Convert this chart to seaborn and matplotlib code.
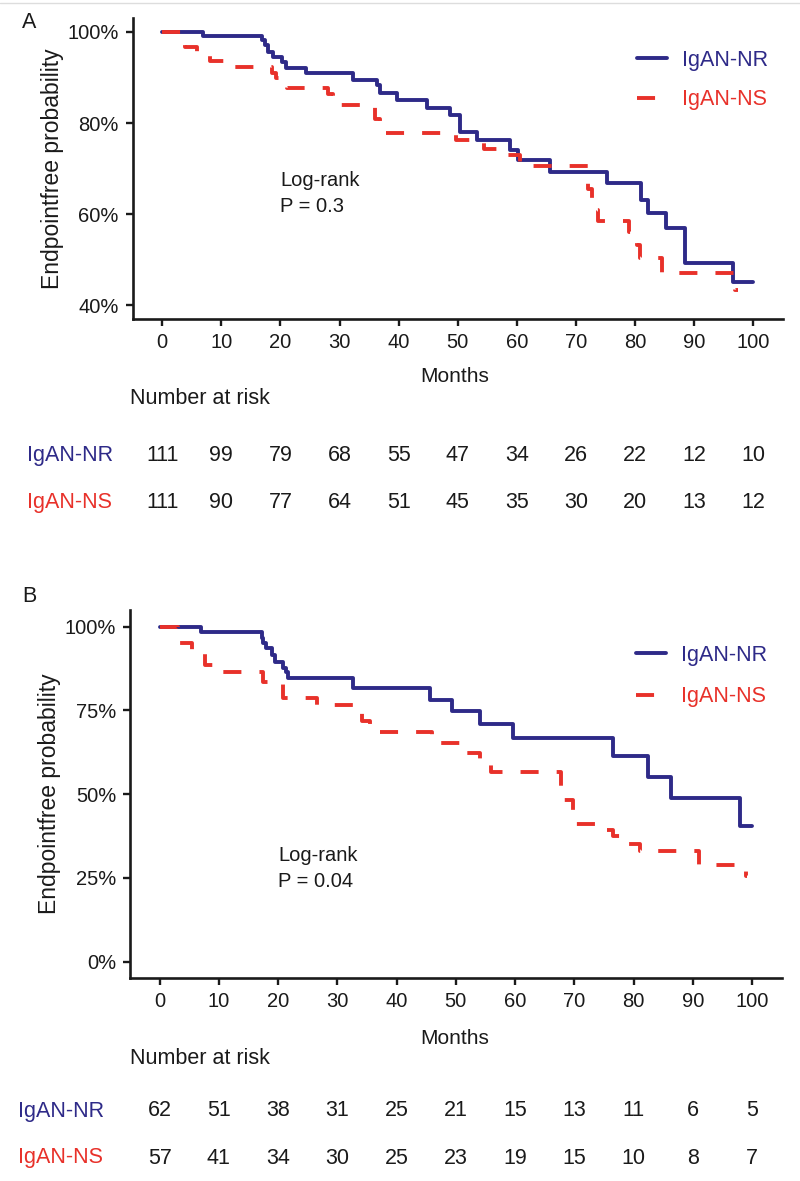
import pandas as pd
import seaborn as sns
import matplotlib.pyplot as plt
from matplotlib import transforms
from matplotlib.lines import Line2D

# Kaplan-Meier step curves (months, % endpoint-free)
groups = ["IgAN-NR", "IgAN-NS"]
colors = {"IgAN-NR": "#2E2A88", "IgAN-NS": "#E8312A"}

a_nr_time = [0, 6.9, 16.8, 17.4, 17.9, 18.8, 20.2, 20.9, 24.4, 32.3, 36.3, 36.8, 39.7,
             44.8, 48.7, 50.4, 53.2, 58.8, 60.2, 65.6, 75.2, 81.1, 82.2, 85.3, 88.4, 96.6, 100.0]
a_nr_surv = [100, 99.2, 98.3, 97.2, 95.7, 94.6, 93.5, 92.1, 91.0, 89.5, 88.3, 86.6, 85.1,
             83.3, 81.8, 78.1, 76.3, 74.1, 71.9, 69.3, 66.8, 63.1, 60.3, 56.9, 49.2, 45.1, 45.1]
a_ns_time = [0, 3.8, 5.8, 8.1, 11.6, 18.5, 19.3, 21.1, 28.1, 28.9, 30.2, 36.0, 36.8, 37.5,
             49.7, 54.4, 57.4, 60.5, 72.1, 72.7, 73.8, 79.0, 80.3, 80.8, 84.6, 96.9, 97.4]
a_ns_surv = [100, 96.8, 95.4, 93.6, 92.4, 91.0, 89.9, 87.6, 86.3, 85.1, 83.9, 80.8, 79.3, 77.9,
             76.3, 74.4, 73.1, 70.5, 65.5, 61.0, 58.5, 56.1, 53.2, 50.3, 47.0, 43.3, 43.3]

b_nr_time = [0, 7.0, 17.2, 17.5, 18.0, 18.9, 19.4, 20.8, 21.4, 21.7, 32.7, 45.6, 49.3,
             54.0, 59.7, 76.5, 82.5, 86.3, 97.9, 100.0]
b_nr_surv = [100, 98.3, 96.5, 95.1, 93.6, 91.6, 89.6, 87.6, 86.6, 84.8, 81.6, 78.1, 74.9,
             71.1, 66.9, 61.3, 55.0, 48.9, 40.6, 40.6]
b_ns_time = [0, 3.1, 5.4, 7.6, 10.0, 17.5, 20.8, 26.5, 34.1, 35.5, 46.0, 50.7, 54.0, 56.0,
             67.7, 69.7, 75.2, 76.5, 79.1, 81.1, 91.0, 98.9, 99.2]
b_ns_surv = [100, 95.0, 93.0, 88.6, 86.6, 83.6, 78.7, 76.5, 71.7, 68.7, 65.3, 62.3, 59.3, 56.5,
             48.4, 41.0, 39.4, 37.4, 35.0, 33.0, 28.8, 25.5, 25.5]

# number at risk table
risk_times = [0, 10, 20, 30, 40, 50, 60, 70, 80, 90, 100]
a_risk_nr = [111, 99, 79, 68, 55, 47, 34, 26, 22, 12, 10]
a_risk_ns = [111, 90, 77, 64, 51, 45, 35, 30, 20, 13, 12]
b_risk_nr = [62, 51, 38, 31, 25, 21, 15, 13, 11, 6, 5]
b_risk_ns = [57, 41, 34, 30, 25, 23, 19, 15, 10, 8, 7]

a_yticks = [40, 60, 80, 100]
b_yticks = [0, 25, 50, 75, 100]

sns.set_style("ticks")
plt.rcParams["font.family"] = ["Liberation Sans", "DejaVu Sans"]
plt.rcParams["lines.scale_dashes"] = False

fig = plt.figure(figsize=(8, 11.81), dpi=100)
W, H = 800, 1181
ink = "#1a1a1a"

# faint border line at the very top
fig.add_artist(Line2D([0, 1], [1 - 3.3 / H, 1 - 3.3 / H], color="#dddddd", lw=1))


def km_panel(rect, nr_t, nr_s, ns_t, ns_s, ylim, yticks, pval, ptext_y, leg_y, leg_space):
    ax = fig.add_axes(rect)
    df = pd.concat([
        pd.DataFrame({"month": nr_t, "surv": nr_s, "group": "IgAN-NR"}),
        pd.DataFrame({"month": ns_t, "surv": ns_s, "group": "IgAN-NS"}),
    ])
    sns.lineplot(data=df, x="month", y="surv", hue="group", style="group",
                 hue_order=groups, style_order=groups, palette=colors,
                 dashes={"IgAN-NR": "", "IgAN-NS": (13, 13)},
                 drawstyle="steps-post", estimator=None, sort=False,
                 linewidth=2.8, legend=False, ax=ax)
    ax.set_xlim(-5, 105)
    ax.set_ylim(*ylim)
    ax.set_xticks(risk_times)
    ax.set_yticks(yticks)
    ax.set_yticklabels([f"{t}%" for t in yticks])
    sns.despine(ax=ax)
    for s in ["left", "bottom"]:
        ax.spines[s].set_linewidth(1.9)
        ax.spines[s].set_color(ink)
    ax.tick_params(axis="both", length=5, width=1.7, pad=5, labelsize=14.5,
                   color=ink, labelcolor=ink)
    ax.set_xlabel("")
    ax.set_ylabel("Endpointfree probability", fontsize=16.5, color=ink)
    ax.yaxis.set_label_coords(-0.106, 0.5)
    ax.text(20, ptext_y, f"Log-rank\nP = {pval}", fontsize=14.5, color=ink,
            ha="left", va="center", linespacing=1.45)
    leg = ax.legend(handles=ax.lines[:2], labels=groups, loc="upper left",
                    bbox_to_anchor=(0.776, leg_y), frameon=False, fontsize=15.5,
                    handlelength=1.4, handletextpad=0.7, labelspacing=leg_space,
                    borderpad=0, borderaxespad=0)
    for txt, g in zip(leg.get_texts(), groups):
        txt.set_color(colors[g])
    return ax


def risk_table(ax, months_y, title_y, nr_y, ns_y, label_x, nr_vals, ns_vals):
    tr = transforms.blended_transform_factory(ax.transData, fig.transFigure)
    fig.text(455 / W, 1 - months_y / H, "Months", fontsize=15, ha="center", va="center",
             color=ink)
    fig.text(130 / W, 1 - title_y / H, "Number at risk", fontsize=15.5, ha="left",
             va="center", color=ink)
    fig.text(label_x / W, 1 - nr_y / H, "IgAN-NR", fontsize=15.5, ha="left", va="center",
             color=colors["IgAN-NR"])
    fig.text(label_x / W, 1 - ns_y / H, "IgAN-NS", fontsize=15.5, ha="left", va="center",
             color=colors["IgAN-NS"])
    for t, n1, n2 in zip(risk_times, nr_vals, ns_vals):
        ax.text(t, 1 - nr_y / H, str(n1), transform=tr, fontsize=15.5, ha="center",
                va="center", color=ink)
        ax.text(t, 1 - ns_y / H, str(n2), transform=tr, fontsize=15.5, ha="center",
                va="center", color=ink)


ax_a = km_panel([132.7 / W, 1 - 319 / H, 650 / W, 300.7 / H],
                a_nr_time, a_nr_surv, a_ns_time, a_ns_surv,
                (37, 103), a_yticks, "0.3", 64.5, 0.895, 0.85)
risk_table(ax_a, 377, 399, 456, 503, 27, a_risk_nr, a_risk_ns)

ax_b = km_panel([130 / W, 1 - 978.3 / H, 651.7 / W, 368.3 / H],
                b_nr_time, b_nr_surv, b_ns_time, b_ns_surv,
                (-5, 105), b_yticks, "0.04", 27.8, 0.905, 0.95)
risk_table(ax_b, 1039, 1058, 1111, 1158, 18, b_risk_nr, b_risk_ns)

fig.text(22 / W, 1 - 23 / H, "A", fontsize=15.5, ha="left", va="center", color=ink)
fig.text(22 / W, 1 - 597 / H, "B", fontsize=15.5, ha="left", va="center", color=ink)

fig.savefig("out.png", dpi=100, facecolor="white")
